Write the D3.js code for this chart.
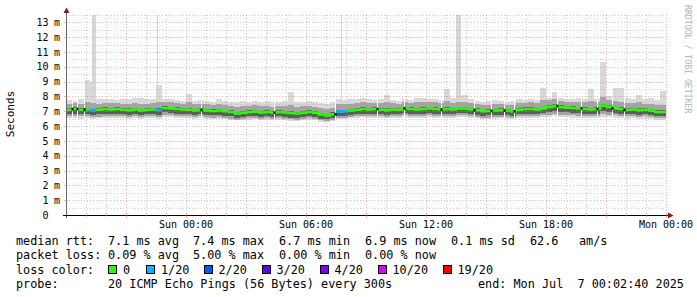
<!DOCTYPE html>
<html><head><meta charset="utf-8">
<script src="https://cdn.jsdelivr.net/npm/d3@7"></script>
<style>
html,body{margin:0;padding:0;background:#fff;}
svg{display:block;}
text{font-family:"DejaVu Sans Mono",monospace;fill:#000;white-space:pre;}
</style></head><body>
<svg id="c" width="697" height="297"></svg>
<script>
// ---------------- DATA ----------------
const startTime = new Date(2025, 6, 5, 18, 0, 0);   // Sat 18:00
const endTime   = new Date(2025, 6, 7, 0, 0, 0);    // Mon 00:00
const stepMinutes = 18;

const median = [7.10,7.15,7.10,7.12,7.05,7.10,7.15,7.12,7.15,7.10,
 7.08,7.12,7.05,7.10,7.12,7.08,7.22,7.20,7.15,7.12,
 7.10,7.05,7.10,7.05,7.02,7.05,7.00,6.95,6.85,6.90,
 6.95,6.98,6.92,6.95,6.90,6.95,6.92,6.88,6.85,6.90,
 6.95,6.90,6.78,6.72,6.80,6.98,7.00,7.05,7.10,7.15,
 7.12,7.15,7.10,7.08,7.12,7.10,7.20,7.15,7.12,7.15,
 7.20,7.15,7.12,7.15,7.12,7.20,7.18,7.12,7.08,7.00,
 7.02,7.05,7.08,7.05,7.00,7.10,7.15,7.15,7.12,7.20,
 7.30,7.35,7.28,7.25,7.22,7.20,7.15,7.12,7.15,7.38,
 7.30,7.20,7.15,7.10,7.12,7.08,7.10,7.05,6.95,6.95];

const pingMax = [7.75,7.70,7.80,9.10,9.00,7.80,7.85,7.80,7.75,7.80,
 7.85,7.90,7.90,7.80,7.85,8.75,7.85,7.80,7.75,7.70,
 8.20,7.70,7.75,7.70,7.65,7.80,7.70,7.60,7.65,7.70,
 7.65,7.70,7.65,7.70,7.60,7.65,7.70,8.30,7.60,7.65,
 7.70,7.60,7.55,7.50,7.60,7.80,7.75,7.85,7.80,7.90,
 7.80,7.75,7.85,8.10,7.75,7.70,7.80,7.75,7.90,7.90,
 7.80,7.85,7.75,8.50,7.90,8.00,8.10,7.85,7.70,7.65,
 7.70,7.75,7.70,7.65,7.70,7.80,7.75,7.80,7.75,8.60,
 7.90,8.30,7.90,7.85,7.80,7.90,7.80,8.50,7.80,10.30,
 8.00,8.60,8.55,7.90,7.80,8.10,7.80,7.90,7.75,8.35];

const ping90 = [7.52,7.55,7.50,7.65,7.55,7.52,7.58,7.55,7.56,7.52,
 7.50,7.58,7.50,7.52,7.55,7.65,7.62,7.62,7.56,7.52,
 7.60,7.47,7.52,7.47,7.44,7.50,7.42,7.37,7.30,7.35,
 7.37,7.40,7.35,7.38,7.32,7.36,7.36,7.45,7.28,7.33,
 7.38,7.32,7.20,7.15,7.25,7.48,7.48,7.50,7.55,7.60,
 7.55,7.55,7.55,7.60,7.55,7.50,7.60,7.55,7.60,7.60,
 7.62,7.60,7.55,7.70,7.58,7.65,7.65,7.55,7.50,7.45,
 7.45,7.50,7.50,7.45,7.45,7.55,7.55,7.60,7.55,7.75,
 7.75,7.80,7.70,7.65,7.65,7.65,7.60,7.70,7.60,7.95,
 7.75,7.70,7.65,7.55,7.55,7.60,7.50,7.50,7.40,7.45];

const ping75 = [7.22,7.27,7.22,7.25,7.18,7.22,7.27,7.24,7.27,7.22,
 7.20,7.24,7.18,7.22,7.24,7.20,7.34,7.32,7.27,7.24,
 7.22,7.17,7.22,7.17,7.14,7.17,7.12,7.07,6.97,7.02,
 7.07,7.10,7.04,7.07,7.02,7.07,7.04,7.00,6.97,7.02,
 7.07,7.02,6.90,6.84,6.92,7.10,7.12,7.17,7.22,7.27,
 7.24,7.27,7.22,7.20,7.24,7.22,7.32,7.27,7.24,7.27,
 7.32,7.27,7.24,7.27,7.24,7.32,7.30,7.24,7.20,7.12,
 7.14,7.17,7.20,7.17,7.12,7.22,7.27,7.27,7.24,7.32,
 7.42,7.47,7.40,7.37,7.34,7.32,7.27,7.24,7.27,7.50,
 7.42,7.32,7.27,7.22,7.24,7.20,7.22,7.17,7.07,7.07];

const ping25 = [6.80,6.84,6.80,6.82,6.75,6.80,6.85,6.82,6.84,6.80,
 6.78,6.82,6.75,6.80,6.82,6.78,6.92,6.90,6.85,6.82,
 6.80,6.75,6.80,6.75,6.72,6.75,6.70,6.65,6.55,6.60,
 6.65,6.68,6.62,6.65,6.60,6.65,6.62,6.58,6.55,6.60,
 6.65,6.60,6.50,6.45,6.52,6.68,6.70,6.75,6.80,6.85,
 6.82,6.85,6.80,6.78,6.82,6.80,6.90,6.85,6.82,6.85,
 6.90,6.85,6.82,6.85,6.82,6.90,6.88,6.82,6.78,6.70,
 6.72,6.75,6.78,6.75,6.70,6.80,6.85,6.85,6.82,6.90,
 6.95,7.00,6.95,6.92,6.90,6.88,6.85,6.82,6.85,7.00,
 6.95,6.88,6.85,6.80,6.82,6.78,6.80,6.75,6.65,6.65];

const ping10 = [6.66,6.70,6.65,6.66,6.60,6.64,6.70,6.68,6.70,6.65,
 6.64,6.67,6.60,6.65,6.67,6.62,6.78,6.75,6.70,6.67,
 6.65,6.60,6.65,6.60,6.57,6.60,6.55,6.50,6.40,6.45,
 6.52,6.54,6.48,6.52,6.47,6.52,6.48,6.45,6.42,6.47,
 6.52,6.47,6.38,6.33,6.40,6.55,6.57,6.62,6.67,6.70,
 6.68,6.70,6.65,6.63,6.67,6.65,6.75,6.70,6.67,6.70,
 6.75,6.70,6.67,6.70,6.67,6.75,6.73,6.67,6.63,6.55,
 6.57,6.60,6.63,6.60,6.55,6.65,6.70,6.70,6.67,6.75,
 6.78,6.82,6.78,6.75,6.72,6.70,6.68,6.65,6.68,6.82,
 6.78,6.72,6.68,6.65,6.67,6.63,6.65,6.60,6.52,6.52];

const pingMin = [6.52,6.56,6.50,6.52,6.46,6.52,6.58,6.54,6.56,6.52,
 6.50,6.54,6.48,6.52,6.54,6.50,6.64,6.62,6.56,6.54,
 6.52,6.48,6.52,6.48,6.46,6.48,6.45,6.42,6.38,6.40,
 6.42,6.45,6.40,6.42,6.38,6.42,6.40,6.37,6.35,6.38,
 6.42,6.38,6.30,6.26,6.32,6.45,6.48,6.52,6.56,6.60,
 6.56,6.58,6.54,6.52,6.56,6.54,6.62,6.58,6.56,6.58,
 6.62,6.58,6.56,6.58,6.56,6.62,6.60,6.56,6.52,6.46,
 6.48,6.50,6.52,6.50,6.46,6.54,6.58,6.58,6.56,6.62,
 6.62,6.65,6.62,6.60,6.58,6.56,6.55,6.52,6.55,6.62,
 6.60,6.55,6.52,6.50,6.52,6.48,6.50,6.46,6.40,6.40];

// lost pings out of 20 per interval
const lossCount = [0,0,0,0,1,0,0,0,0,0, 0,0,0,0,0,1,0,0,0,0,
 0,0,0,0,0,0,0,0,0,0, 0,0,0,0,0,0,0,0,0,0,
 0,0,0,0,0,1,1,0,0,0, 0,0,0,0,0,0,0,0,0,0,
 0,0,0,0,0,0,0,0,0,0, 0,0,0,0,0,0,0,0,0,0,
 0,0,0,0,0,0,0,0,0,0, 0,0,0,0,0,0,0,0,0,0];

// narrow outlier spikes: [start hour, end hour, max ms] (hours after start)
const spikeStart = [1.29, 4.55, 13.75, 19.50];
const spikeEnd   = [1.50, 4.62, 13.80, 19.75];
const spikeValue = [13.5, 13.5, 13.5, 13.5];

// short data gaps (hours after start)
const gapHours = [0.3, 0.55, 0.9, 6.75, 10.4, 13.45, 15.55, 16.9, 18.75, 20.4, 21.25, 21.9, 22.4, 24.55, 25.75, 26.55, 27.3, 27.9];

const yTickValues = [0,1,2,3,4,5,6,7,8,9,10,11,12,13];
const yUnit = "m";
const xTickLabels = ["Sun 00:00","Sun 06:00","Sun 12:00","Sun 18:00","Mon 00:00"];
const xTickTimes = [new Date(2025,6,6,0,0), new Date(2025,6,6,6,0), new Date(2025,6,6,12,0), new Date(2025,6,6,18,0), new Date(2025,6,7,0,0)];

const lossLabels = ["0","1/20","2/20","3/20","4/20","10/20","19/20"];
const lossLevels = [0,1,2,3,4,10,19];
const lossColors = ["#26ff00","#00b8ff","#0059ff","#5e00ff","#7e00ff","#dd00ff","#ff0000"];

const rttLabels = ["7.1 ms avg","7.4 ms max","6.7 ms min","6.9 ms now","0.1 ms sd"];
const lossStats = ["0.09 % avg","5.00 % max","0.00 % min","0.00 % now"];

// ---------------- DRAW ----------------
const svg = d3.select("#c");
const L = 66, R = 666, B = 215, T = 15;
const x = d3.scaleTime().domain([startTime, endTime]).range([L, R]);
const y = d3.scaleLinear().domain([0, 13.5]).range([B, T]);
const stepMs = stepMinutes * 60000;
const hrs = h => new Date(+startTime + h * 3600000);
const slots = median.map((m, i) => ({i, t0: new Date(+startTime + i * stepMs), t1: new Date(+startTime + (i + 1) * stepMs)}));

const gSmoke = svg.append("g").attr("shape-rendering", "crispEdges");
function band(lo, hi, color) {
  gSmoke.append("g").selectAll("rect").data(slots).join("rect")
    .attr("x", d => x(d.t0)).attr("width", d => x(d.t1) - x(d.t0))
    .attr("y", d => y(hi[d.i])).attr("height", d => Math.max(0, y(lo[d.i]) - y(hi[d.i])))
    .attr("fill", color);
}
band(pingMin, pingMax, "#d9d9d9");
gSmoke.append("g").selectAll("rect").data(spikeStart).join("rect")
  .attr("x", d => x(hrs(d))).attr("width", (d, i) => Math.max(1, x(hrs(spikeEnd[i])) - x(hrs(d))))
  .attr("y", (d, i) => y(spikeValue[i])).attr("height", (d, i) => y(7.2) - y(spikeValue[i]))
  .attr("fill", "#d6d6d6");
band(ping10, ping90, "#a4a4a4");
band(ping25, ping75, "#5c5c5c");

const slotOf = h => Math.min(slots.length - 1, Math.floor(h * 60 / stepMinutes));
gSmoke.append("g").selectAll("rect").data(gapHours).join("rect")
  .attr("x", d => Math.round(x(hrs(d)))).attr("width", 1)
  .attr("y", d => y(pingMax[slotOf(d)])).attr("height", d => y(pingMin[slotOf(d)]) - y(pingMax[slotOf(d)]))
  .attr("fill", "#fff");

// grid
const major = "rgba(240,110,110,0.55)", minor = "rgba(160,160,160,0.55)";
const gGrid = svg.append("g").attr("shape-rendering", "crispEdges");
const hGrid = d3.range(1, 28).map(k => k / 2);
gGrid.selectAll(".h").data(hGrid).join("line")
  .attr("x1", L).attr("x2", R).attr("y1", d => Math.round(y(d)) + 0.5).attr("y2", d => Math.round(y(d)) + 0.5)
  .attr("stroke", d => Number.isInteger(d) ? major : minor)
  .attr("stroke-dasharray", "1,2");
const vGrid = d3.timeHour.range(new Date(+startTime + 3600000), new Date(+endTime + 1));
gGrid.selectAll(".v").data(vGrid).join("line")
  .attr("x1", d => Math.round(x(d)) + 0.5).attr("x2", d => Math.round(x(d)) + 0.5).attr("y1", T).attr("y2", B)
  .attr("stroke", d => d.getHours() % 3 === 0 ? major : minor)
  .attr("stroke-dasharray", "1,2");

// median line coloured by loss
const colorFor = n => { let c = lossColors[0]; lossLevels.forEach((lv, k) => { if (n >= lv) c = lossColors[k]; }); return c; };
const paths = {};
slots.forEach(d => {
  const c = colorFor(lossCount[d.i]);
  if (!paths[c]) paths[c] = d3.path();
  const p = paths[c];
  p.moveTo(x(d.t0), y(median[d.i]));
  p.lineTo(x(d.t1), y(median[d.i]));
  if (d.i + 1 < slots.length && colorFor(lossCount[d.i + 1]) === c) p.lineTo(x(d.t1), y(median[d.i + 1]));
});
Object.entries(paths).forEach(([c, p]) => {
  svg.append("path").attr("d", p.toString()).attr("fill", "none").attr("stroke", c).attr("stroke-width", 2.6);
});
svg.append("g").selectAll("line").data(gapHours).join("line")
  .attr("x1", d => Math.round(x(hrs(d))) - 0.5).attr("x2", d => Math.round(x(hrs(d))) + 1.5)
  .attr("y1", d => y(median[slotOf(d)])).attr("y2", d => y(median[slotOf(d)]))
  .attr("stroke", "#000").attr("stroke-width", 2.6);

// axes
const gAx = svg.append("g").attr("shape-rendering", "crispEdges");
gAx.append("line").attr("x1", L + 0.5).attr("x2", L + 0.5).attr("y1", B + 3).attr("y2", 12).attr("stroke", "#666");
gAx.append("line").attr("x1", L - 3).attr("x2", R + 3).attr("y1", B + 0.5).attr("y2", B + 0.5).attr("stroke", "#000");
gAx.selectAll(".yt").data(yTickValues.slice(1)).join("line")
  .attr("x1", L - 2).attr("x2", L + 2).attr("y1", d => Math.round(y(d)) + 0.5).attr("y2", d => Math.round(y(d)) + 0.5).attr("stroke", major);
gAx.selectAll(".xt").data(vGrid).join("line")
  .attr("x1", d => Math.round(x(d)) + 0.5).attr("x2", d => Math.round(x(d)) + 0.5)
  .attr("y1", B - 2).attr("y2", d => d.getHours() % 3 === 0 ? B + 3 : B + 2)
  .attr("stroke", d => d.getHours() % 3 === 0 ? major : minor);
svg.append("path").attr("d", `M${L - 2.5},13 L${L + 0.5},7.5 L${L + 3.5},13 Z`).attr("fill", "#8b1a1a");
svg.append("path").attr("d", `M${R + 2},${B - 2.5} L${R + 7.5},${B + 0.5} L${R + 2},${B + 3.5} Z`).attr("fill", "#8b1a1a");

// y labels
const gyl = svg.append("g").attr("font-size", "10px");
gyl.selectAll(".n").data(yTickValues).join("text")
  .attr("x", 48.5).attr("y", d => y(d) + 3.6).attr("text-anchor", "end").text(d => d);
gyl.selectAll(".u").data(yTickValues.slice(1)).join("text")
  .attr("x", 54).attr("y", d => y(d) + 3.6).text(yUnit);

// x labels
svg.append("g").attr("font-size", "10px").selectAll("text").data(xTickTimes).join("text")
  .attr("x", d => x(d)).attr("y", 228).attr("text-anchor", "middle").text((d, i) => xTickLabels[i]);

svg.append("text").attr("transform", "translate(14,114) rotate(-90)").attr("text-anchor", "middle")
  .attr("font-size", "11px").text("Seconds");
svg.append("text").attr("transform", "translate(684.5,5) rotate(90)").attr("font-size", "8.2px")
  .style("fill", "#b4b4b4").text("RRDTOOL / TOBI OETIKER");

// legend
const lg = svg.append("g").attr("font-size", "11.8px");
lg.append("text").attr("x", 16).attr("y", 245).text("median rtt:");
const rttX = [108, 193, 279, 365, 451];
rttLabels.forEach((t, i) => lg.append("text").attr("x", rttX[i]).attr("y", 245).text(t));
lg.append("text").attr("x", 530).attr("y", 245).text("62.6");
lg.append("text").attr("x", 579).attr("y", 245).text("am/s");
lg.append("text").attr("x", 16).attr("y", 259).text("packet loss:");
lossStats.forEach((t, i) => lg.append("text").attr("x", rttX[i]).attr("y", 259).text(t));
lg.append("text").attr("x", 16).attr("y", 273.5).text("loss color:");
const swX = [108, 146, 203.5, 261.5, 319.5, 377.5, 442.5];
lossLabels.forEach((t, i) => {
  lg.append("rect").attr("x", swX[i] + 0.5).attr("y", 265.5).attr("width", 8).attr("height", 8)
    .attr("fill", lossColors[i]).attr("stroke", "#000").attr("stroke-width", 1).attr("shape-rendering", "crispEdges");
  lg.append("text").attr("x", swX[i] + 15).attr("y", 273.5).text(t);
});
lg.append("text").attr("x", 16).attr("y", 287.5).text("probe:");
lg.append("text").attr("x", 108).attr("y", 287.5).text("20 ICMP Echo Pings (56 Bytes) every 300s");
lg.append("text").attr("x", 478).attr("y", 287.5).text("end: Mon Jul  7 00:02:40 2025");
</script>
</body></html>
